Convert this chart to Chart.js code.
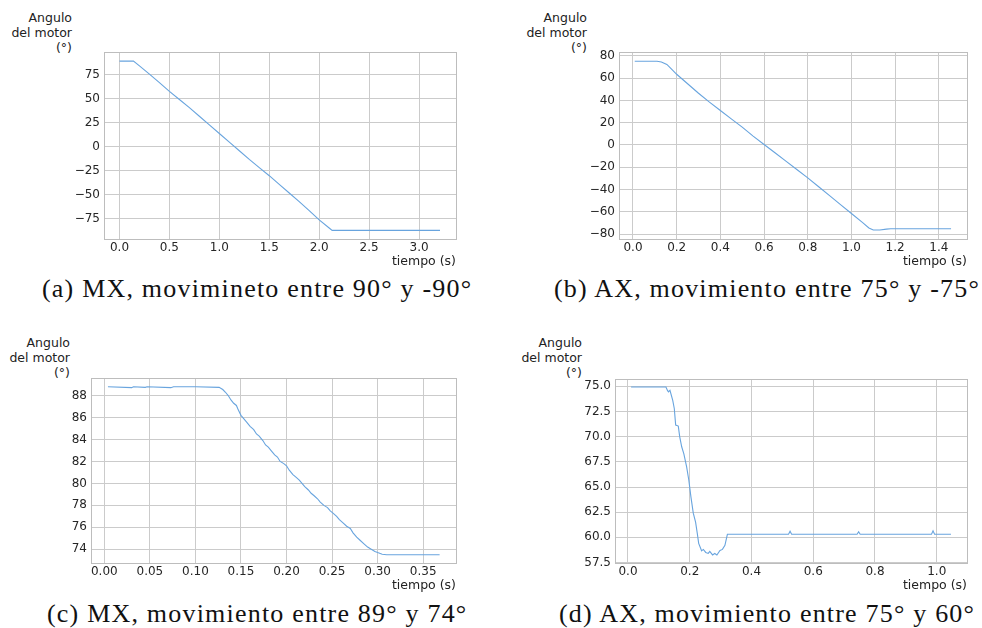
<!DOCTYPE html>
<html>
<head>
<meta charset="utf-8">
<script src="https://cdn.jsdelivr.net/npm/chart.js@4"></script>
<style>
  body { margin: 0; background: #fff; }
  #fig { position: relative; width: 982px; height: 628px; background: #fff; overflow: hidden; }
  .panel { position: absolute; }
  .ylab { position: absolute; text-align: right; font: 12.5px "DejaVu Sans", sans-serif; line-height: 15px; color: #222; }
  .cap { position: absolute; white-space: nowrap; font: 26px "Liberation Serif", serif; line-height: 26px; letter-spacing: 1.2px; color: #111; }
</style>
</head>
<body>
<div id="fig">
  <div class="ylab" style="right:910px;top:10px">Angulo<br>del motor<br>(°)</div>
  <div class="ylab" style="right:395px;top:10px">Angulo<br>del motor<br>(°)</div>
  <div class="ylab" style="right:912px;top:335px">Angulo<br>del motor<br>(°)</div>
  <div class="ylab" style="right:400px;top:335px">Angulo<br>del motor<br>(°)</div>

  <div class="panel" style="left:54px;top:40px"><canvas id="chartA" width="412" height="229"></canvas></div>
  <div class="panel" style="left:569px;top:40px"><canvas id="chartB" width="408" height="229"></canvas></div>
  <div class="panel" style="left:41px;top:366px"><canvas id="chartC" width="425" height="227"></canvas></div>
  <div class="panel" style="left:565px;top:367px"><canvas id="chartD" width="412" height="226"></canvas></div>

  <div class="cap" style="left:42px;top:276px">(a) MX, movimineto entre 90° y -90°</div>
  <div class="cap" style="left:554px;top:276px">(b) AX, movimiento entre 75° y -75°</div>
  <div class="cap" style="left:47px;top:601px">(c) MX, movimiento entre 89° y 74°</div>
  <div class="cap" style="left:559px;top:601px">(d) AX, movimiento entre 75° y 60°</div>
</div>

<script>
// (a) MX 90 -> -90
var timeA = [0.0, 0.14, 0.2, 0.3, 0.4, 0.5, 0.6, 0.7, 0.8, 0.9, 1.0, 1.1, 1.2, 1.3, 1.4, 1.5, 1.6, 1.7, 1.8, 1.9, 2.0, 2.1, 2.13, 3.21];
var angleA = [89, 89, 84, 75.5, 66.5, 57.5, 49, 40.5, 31.5, 22.5, 13.5, 4.5, -4.5, -13.5, -22, -30.5, -39.5, -48.5, -57.5, -67, -76.5, -85, -87.5, -87.5];

// (b) AX 75 -> -75
var timeB = [0.008, 0.11, 0.13, 0.155, 0.18, 0.2, 0.25, 0.3, 0.35, 0.4, 0.45, 0.5, 0.55, 0.6, 0.65, 0.7, 0.75, 0.8, 0.85, 0.9, 0.95, 1.0, 1.05, 1.08, 1.1, 1.13, 1.16, 1.18, 1.456];
var angleB = [75.2, 75.2, 74.5, 72.3, 67.5, 63.5, 55, 46.5, 38.5, 31, 23.5, 16, 8, 0.5, -7, -14.5, -22, -29.5, -37.5, -45.5, -53.5, -61.5, -69.5, -74.5, -76.3, -76.3, -75.5, -75.2, -75.2];

// (c) MX 89 -> 74
var timeC = [0.004, 0.03, 0.032, 0.045, 0.047, 0.073, 0.076, 0.1,
  0.126, 0.13, 0.133, 0.136, 0.139, 0.142, 0.145, 0.147, 0.15, 0.153,
  0.156, 0.16, 0.164, 0.167, 0.17, 0.174, 0.177, 0.18, 0.184, 0.187,
  0.19, 0.193, 0.197, 0.2, 0.203, 0.207, 0.21, 0.214, 0.217, 0.22,
  0.224, 0.227, 0.23, 0.234, 0.237, 0.241, 0.245, 0.248, 0.251, 0.255,
  0.258, 0.262, 0.266, 0.27, 0.273, 0.277, 0.281, 0.285, 0.289, 0.293,
  0.297, 0.3, 0.305, 0.31, 0.368];
var angleC = [88.8, 88.72, 88.8, 88.75, 88.8, 88.72, 88.8, 88.8,
  88.75, 88.55, 88.3, 88.0, 87.6, 87.3, 87.1, 86.7, 86.2, 85.9,
  85.6, 85.2, 84.9, 84.5, 84.3, 83.9, 83.5, 83.3, 82.9, 82.6,
  82.4, 82.0, 81.8, 81.6, 81.2, 80.8, 80.6, 80.3, 80.0, 79.7,
  79.4, 79.1, 78.9, 78.6, 78.3, 78.0, 77.8, 77.5, 77.3, 77.0,
  76.7, 76.4, 76.1, 75.9, 75.5, 75.1, 74.8, 74.5, 74.2, 74.0,
  73.8, 73.7, 73.55, 73.5, 73.5];

// (d) AX 75 -> 60
var timeD = [0.01, 0.123, 0.128, 0.131, 0.136, 0.145, 0.15, 0.1545, 0.163, 0.1675,
  0.174, 0.181, 0.19, 0.197, 0.204, 0.2115, 0.219, 0.2245, 0.229, 0.2385,
  0.244, 0.252, 0.26, 0.265, 0.274, 0.281, 0.288, 0.298, 0.306, 0.314,
  0.322, 0.52, 0.525, 0.53, 0.742, 0.747, 0.752, 0.983, 0.988, 0.993, 1.046];
var angleD = [74.93, 74.93, 74.6, 74.45, 74.6, 73.6, 72.8, 71.15, 71.05, 70.0,
  69.0, 68.3, 67.0, 65.7, 64.0, 62.4, 61.5, 60.4, 59.4, 58.66,
  58.8, 58.5, 58.4, 58.6, 58.25, 58.4, 58.25, 58.7, 58.8, 59.2,
  60.3, 60.3, 60.6, 60.3, 60.3, 60.55, 60.3, 60.3, 60.65, 60.3, 60.3];

const Y_WIDTH = 50;
const X_HEIGHT = 30;

// box around the plot area (chart.js only draws left/bottom borders)
const framePlugin = {
    id: 'frame',
    afterDraw(chart) {
        const a = chart.chartArea;
        const ctx = chart.ctx;
        ctx.save();
        ctx.strokeStyle = '#bdbdbd';
        ctx.lineWidth = 1;
        ctx.strokeRect(Math.round(a.left) + 0.5, Math.round(a.top) + 0.5, Math.round(a.right - a.left), Math.round(a.bottom - a.top));
        ctx.restore();
    }
};

function fmt(decimals) {
    return function (v) {
        if (Math.abs(v) < 1e-9) v = 0;
        return v.toFixed(decimals).replace('-', '\u2212');
    };
}

function makeChart(id, times, angles, xr, yr) {
    const points = times.map((t, i) => ({x: t, y: angles[i]}));
    const ctx = document.getElementById(id).getContext('2d');
    return new Chart(ctx, {
        type: 'line',
        data: {
            datasets: [{
                data: points,
                borderColor: 'rgb(104, 164, 222)',
                borderWidth: 1.1,
                pointRadius: 0,
                tension: 0,
                fill: false
            }]
        },
        plugins: [framePlugin],
        options: {
            responsive: false,
            animation: false,
            layout: { padding: { left: 0, top: 12, right: 10, bottom: 0 } },
            plugins: { legend: { display: false }, tooltip: { enabled: false } },
            scales: {
                x: {
                    type: 'linear',
                    min: xr[0], max: xr[1],
                    afterFit: (s) => { s.height = X_HEIGHT; },
                    grid: { color: '#cbcbcb', drawTicks: false },
                    border: { display: false },
                    ticks: {
                        stepSize: xr[2], includeBounds: false, autoSkip: false,
                        maxRotation: 0, padding: 2, color: '#262626',
                        font: { family: 'DejaVu Sans', size: 12 },
                        callback: fmt(xr[3])
                    },
                    title: {
                        display: true, text: 'tiempo (s)', align: 'end',
                        color: '#222', padding: 0,
                        font: { family: 'DejaVu Sans', size: 12.5 }
                    }
                },
                y: {
                    type: 'linear',
                    min: yr[0], max: yr[1],
                    afterFit: (s) => { s.width = Y_WIDTH; },
                    grid: { color: '#cbcbcb', drawTicks: false },
                    border: { display: false },
                    ticks: {
                        stepSize: yr[2], includeBounds: false, autoSkip: false,
                        padding: 4, color: '#262626',
                        font: { family: 'DejaVu Sans', size: 12 },
                        callback: fmt(yr[3])
                    }
                }
            }
        }
    });
}

makeChart('chartA', timeA, angleA, [-0.155, 3.37, 0.5, 1], [-96.5, 98.5, 25, 0]);
makeChart('chartB', timeB, angleB, [-0.064, 1.529, 0.2, 1], [-84.4, 83.5, 20, 0]);
makeChart('chartC', timeC, angleC, [-0.0146, 0.386, 0.05, 2], [72.75, 89.6, 2, 0]);
makeChart('chartD', timeD, angleD, [-0.042, 1.098, 0.2, 1], [57.45, 75.73, 2.5, 1]);
</script>
</body>
</html>
